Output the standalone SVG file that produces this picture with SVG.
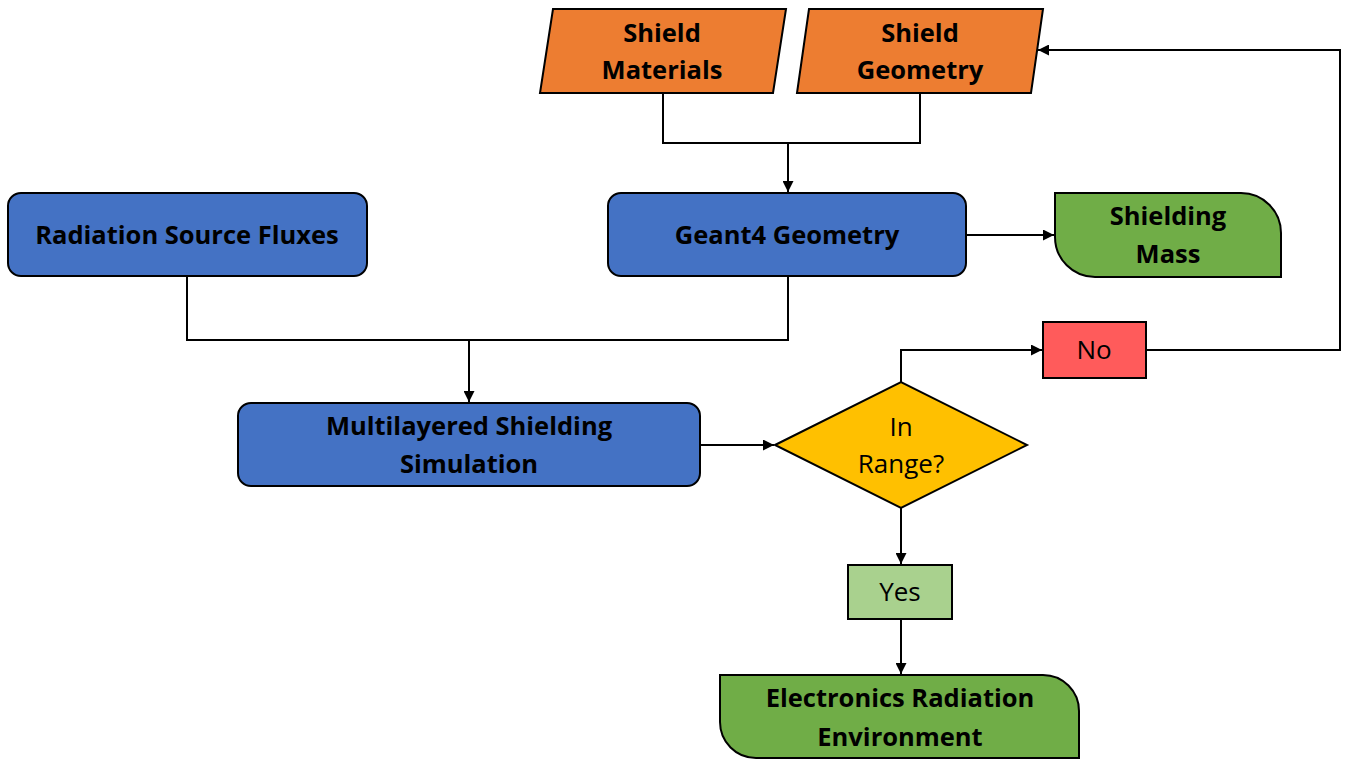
<svg xmlns="http://www.w3.org/2000/svg" width="1350" height="764" viewBox="0 0 1350 764">
<style>
.n{stroke:#000;stroke-width:2}
.b{fill:#4472C4}
.o{fill:#ED7D31}
.g{fill:#70AD47}
.t{font-family:"Open Sans","Liberation Sans",sans-serif;font-size:25.5px;font-weight:bold;fill:#000;text-anchor:middle;dominant-baseline:central}
.r{font-family:"Open Sans","Liberation Sans",sans-serif;font-size:26px;fill:#000;text-anchor:middle;dominant-baseline:central}
.c{fill:none;stroke:#000;stroke-width:2}
</style>
<defs>
<marker id="ah" viewBox="0 0 10 10" refX="10" refY="5" markerWidth="5.5" markerHeight="5.5" orient="auto" markerUnits="strokeWidth">
<path d="M0,0 L10,5 L0,10 z" fill="#000"/>
</marker>
</defs>
<rect width="1350" height="764" fill="#fff"/>
<g id="connectors">
<polyline class="c" points="663,93 663,143 920,143 920,93"/>
<line class="c" x1="788" y1="143" x2="788" y2="192" marker-end="url(#ah)"/>
<polyline class="c" points="187,277 187,340 788,340 788,277"/>
<line class="c" x1="469" y1="340" x2="469" y2="402" marker-end="url(#ah)"/>
<line class="c" x1="966" y1="235" x2="1054" y2="235" marker-end="url(#ah)"/>
<line class="c" x1="700" y1="445" x2="774" y2="445" marker-end="url(#ah)"/>
<polyline class="c" points="901,382 901,350 1042,350" marker-end="url(#ah)"/>
<polyline class="c" points="1146,350 1340,350 1340,50 1038,50" marker-end="url(#ah)"/>
<line class="c" x1="901" y1="508" x2="901" y2="564" marker-end="url(#ah)"/>
<line class="c" x1="901" y1="619" x2="901" y2="674" marker-end="url(#ah)"/>
</g>
<g id="shield-materials">
<polygon class="n o" points="553,9 786,9 773,93 540,93"/>
<text class="t" x="662" y="32">Shield</text>
<text class="t" x="662" y="69">Materials</text>
</g>
<g id="shield-geometry">
<polygon class="n o" points="809,9 1043,9 1031,93 797,93"/>
<text class="t" x="920" y="32">Shield</text>
<text class="t" x="920" y="69">Geometry</text>
</g>
<g id="radiation-source-fluxes">
<rect class="n b" x="8" y="193" width="359" height="83" rx="13"/>
<text class="t" x="187" y="234">Radiation Source Fluxes</text>
</g>
<g id="geant4-geometry">
<rect class="n b" x="608" y="193" width="358" height="83" rx="13"/>
<text class="t" x="787" y="234">Geant4 Geometry</text>
</g>
<g id="shielding-mass">
<path class="n g" d="M1055,193 H1241 A40,40 0 0 1 1281,233 V277 H1095 A40,40 0 0 1 1055,237 Z"/>
<text class="t" x="1168" y="215">Shielding</text>
<text class="t" x="1168" y="253">Mass</text>
</g>
<g id="multilayered-shielding-simulation">
<rect class="n b" x="238" y="403" width="462" height="83" rx="13"/>
<text class="t" x="469" y="425">Multilayered Shielding</text>
<text class="t" x="469" y="463">Simulation</text>
</g>
<g id="in-range">
<polygon class="n" fill="#FFC000" points="775,445 901,382 1027,445 901,508"/>
<text class="r" x="901" y="426">In</text>
<text class="r" x="901" y="463">Range?</text>
</g>
<g id="no">
<rect class="n" fill="#FF5B5B" x="1043" y="322" width="103" height="56"/>
<text class="r" x="1094" y="349">No</text>
</g>
<g id="yes">
<rect class="n" fill="#A9D18E" x="848" y="565" width="104" height="54"/>
<text class="r" x="900" y="591">Yes</text>
</g>
<g id="electronics-radiation-environment">
<path class="n g" d="M720,675 H1043 A36,36 0 0 1 1079,711 V758 H756 A36,36 0 0 1 720,722 Z"/>
<text class="t" x="900" y="697">Electronics Radiation</text>
<text class="t" x="900" y="736">Environment</text>
</g>
</svg>
